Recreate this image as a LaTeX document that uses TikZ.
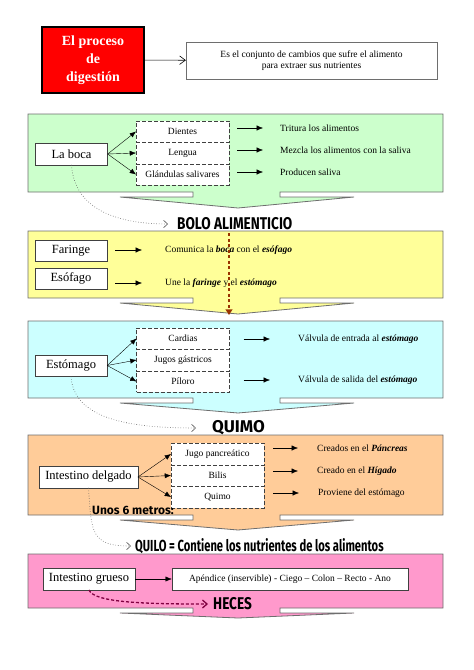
\documentclass[tikz,border=0pt]{standalone}
\usepackage{fontspec}
\setmainfont{Liberation Serif}
\newfontfamily\comicfont{Fira Sans}
\usepackage{graphicx}
\usetikzlibrary{arrows.meta,positioning,calc}
\definecolor{titlered}{RGB}{255,0,0}
\definecolor{bocagreen}{RGB}{204,255,204}
\definecolor{faringeyellow}{RGB}{255,255,153}
\definecolor{estomagocyan}{RGB}{204,255,255}
\definecolor{delgadoorange}{RGB}{255,204,153}
\definecolor{gruesopink}{RGB}{255,153,204}
\definecolor{bolobrown}{RGB}{153,51,0}
\definecolor{hecesred}{RGB}{128,0,64}
\definecolor{edge}{RGB}{110,110,110}

% panel with a down arrow under it: fill, top, bottom, depth of the tip
\newcommand{\panelcallout}[4]{%
  \draw[edge, line width=0.8pt, fill=#1] (28,#2) -- (443,#2) -- (443,#3) -- (280,#3) -- (280,#3+5)
    -- (354,#3+5) -- (238,#3+#4) -- (120,#3+5) -- (193,#3+5) -- (193,#3) -- (28,#3) -- cycle;}

\begin{document}
\begin{tikzpicture}[
  x=1pt, y=-1pt,
  title/.style={draw, line width=1.6pt, fill=titlered, text=white, minimum width=102pt, minimum height=66pt, align=center, font=\fontsize{14}{18}\selectfont\bfseries},
  desc/.style={draw=edge, fill=white, minimum width=251pt, minimum height=37pt, align=center, font=\fontsize{9.5}{11}\selectfont},
  organ/.style={draw=black!75, fill=white, minimum width=72pt, minimum height=21.5pt, inner xsep=6pt, inner ysep=2pt, font=\fontsize{12.5}{14}\selectfont},
  part/.style={draw=black!75, dash pattern=on 4pt off 2pt, fill=white, minimum width=93pt, minimum height=21.5pt, outer sep=0pt, inner sep=1pt, font=\fontsize{9.5}{11}\selectfont},
  note/.style={anchor=west, inner sep=0pt, font=\fontsize{9.5}{11}\selectfont},
  result/.style={anchor=west, inner sep=0pt, font=\comicfont\bfseries\fontsize{17}{19}\selectfont},
  arr/.style={-{Latex[length=2.2mm, width=1.8mm]}, thin},
  flow/.style={line width=0.6pt, dotted, black!65, -{Straight Barb[length=1.4mm, width=2.6mm]}},
]
\useasboundingbox (0,0) rectangle (474,670);

% heading
\node[title] (proceso) at (93,60) {El proceso\\de\\digestión};
\node[desc] (definicion) at (311.5,60.5) {Es el conjunto de cambios que sufre el alimento\\para extraer sus nutrientes};
\draw[-{Straight Barb[length=2mm, width=3mm]}, semithick] (proceso) -- (definicion);

% la boca
\panelcallout{bocagreen}{114}{192}{16}
\node[organ] (boca) at (71.5,154) {La boca};
\node[part] (dientes) at (182.5,131.5) {Dientes};
\node[part, below=0pt of dientes] (lengua) {Lengua};
\node[part, below=0pt of lengua] (glandulas) {Glándulas salivares};
\foreach \p in {dientes,lengua,glandulas}
  \draw[arr] (boca.east) -- (\p.west);
\node[note] (tritura) at (280,128) {Tritura los alimentos};
\node[note] (mezcla) at (280,150) {Mezcla los alimentos con la saliva};
\node[note] (saliva) at (280,172) {Producen saliva};
\foreach \n in {tritura,mezcla,saliva}
  \draw[arr] ([xshift=8pt]\n.west -| dientes.east) -- ([xshift=-17pt]\n.west);
\node[result] (bolo) at (177,224) {\scalebox{0.8}[1]{BOLO ALIMENTICIO}};
\draw[flow] (boca.south) .. controls +(3,45) and +(-50,0) .. ([xshift=-9pt]bolo.west);

% faringe y esofago
\panelcallout{faringeyellow}{231}{298}{16}
\node[organ] (faringe) at (71,250.5) {Faringe};
\node[organ] (esofago) at (71,278.5) {Esófago};
\node[note] (comunica) at (165,250) {Comunica la \textbf{\textit{boca}} con el \textbf{\textit{esófago}}};
\node[note] (une) at (165,283) {Une la \textbf{\textit{faringe}} y el \textbf{\textit{estómago}}};
\draw[arr] ([xshift=8pt]faringe.east |- comunica.west) -- ([xshift=-23pt]comunica.west);
\draw[arr] ([xshift=8pt]esofago.east |- une.west) -- ([xshift=-23pt]une.west);
\coordinate (bolotip) at (229,315);
\draw[bolobrown, line width=1.6pt, dash pattern=on 3pt off 2.5pt, -{Triangle[length=2mm, width=2.4mm]}] ([yshift=-3pt]bolo.south -| bolotip) -- (bolotip);

% estomago
\panelcallout{estomagocyan}{321}{398}{15}
\node[organ] (estomago) at (71,365.5) {Estómago};
\node[part] (cardias) at (183,338.5) {Cardias};
\node[part, below=0pt of cardias] (jugos) {Jugos gástricos};
\node[part, below=0pt of jugos] (piloro) {Píloro};
\foreach \p in {cardias,jugos,piloro}
  \draw[arr] (estomago.east) -- (\p.west);
\node[note] (entrada) at (298,339) {Válvula de entrada al \textbf{\textit{estómago}}};
\node[note] (salida) at (298,380) {Válvula de salida del \textbf{\textit{estómago}}};
\foreach \n in {entrada,salida}
  \draw[arr] ([xshift=14pt]\n.west -| cardias.east) -- ([xshift=-28pt]\n.west);
\node[result] (quimo) at (212,428) {QUIMO};
\draw[flow] (estomago.south) .. controls +(3,45) and +(-60,0) .. ([xshift=-16pt]quimo.west);

% intestino delgado
\panelcallout{delgadoorange}{435}{515}{15}
\node[organ] (delgado) at (88.5,477) {Intestino delgado};
\node[part] (jugo) at (217.5,454) {Jugo pancreático};
\node[part, below=0pt of jugo] (bilis) {Bilis};
\node[part, below=0pt of bilis] (quimopart) {Quimo};
\foreach \p in {jugo,bilis,quimopart}
  \draw[arr] (delgado.east) -- (\p.west);
\node[note] (pancreas) at (317,448) {Creados en el \textbf{\textit{Páncreas}}};
\node[note] (higado) at (317,471) {Creado en el \textbf{\textit{Hígado}}};
\node[note] (proviene) at (318,493) {Proviene del estómago};
\foreach \n in {pancreas,higado,proviene}
  \draw[arr] ([xshift=9pt]\n.west -| jugo.east) -- ([xshift=-19pt]\n.west);
\node[font=\comicfont\bfseries\fontsize{12}{14}\selectfont, inner sep=0pt] (metros) at (133,510) {Unos 6 metros:};
\node[result] (quilo) at (135,546) {\scalebox{0.7}[1]{\fontsize{16}{18}\selectfont QUILO = Contiene los nutrientes de los alimentos}};
\draw[flow] (delgado.south) .. controls +(3,45) and +(-40,0) .. ([xshift=-4pt]quilo.west);

% intestino grueso
\panelcallout{gruesopink}{554}{608}{10}
\node[organ] (grueso) at (89,579) {Intestino grueso};
\node[organ, minimum width=236pt, font=\fontsize{9.5}{11}\selectfont] (apendice) at (290,579) {Apéndice (inservible) - Ciego -- Colon -- Recto - Ano};
\draw[arr] (grueso) -- (apendice);
\node[result] (heces) at (213,604) {\scalebox{0.8}[1]{HECES}};
\draw[hecesred, line width=1.3pt, dash pattern=on 3pt off 2pt, -{Straight Barb[length=1.6mm, width=2.8mm]}] (grueso.south) .. controls +(5,13) and +(-60,0) .. ([xshift=-5pt]heces.west);
\end{tikzpicture}
\end{document}
